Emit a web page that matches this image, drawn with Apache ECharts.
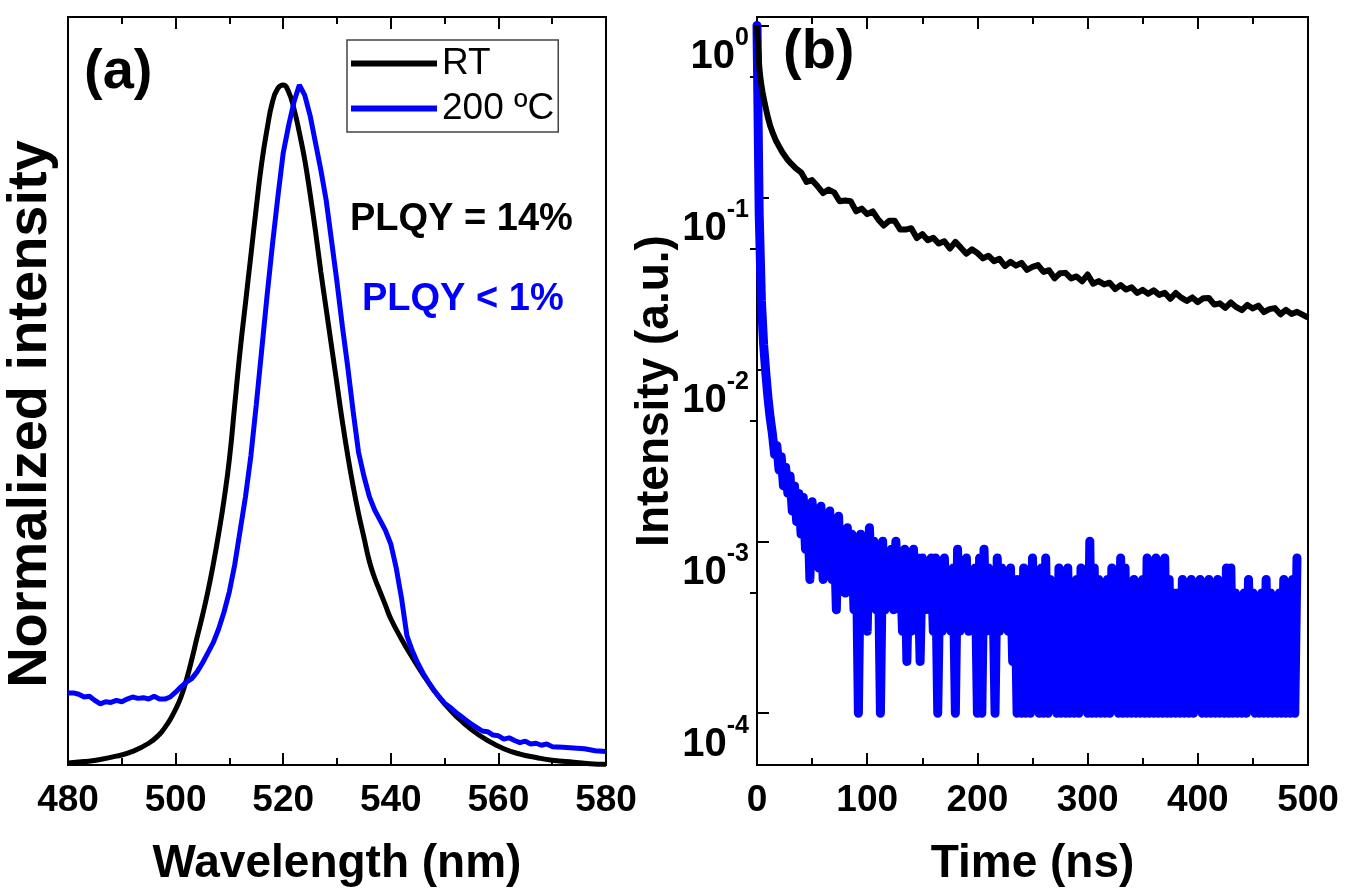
<!DOCTYPE html>
<html lang="en">
<head>
    <meta charset="utf-8"/>
    <title>PL spectra and decay</title>
    <style>
        html, body { margin: 0; padding: 0; background: #fff; }
        #chart { width: 1347px; height: 894px; }
    </style>
</head>
<body>
<div id="chart"></div>
<script src="https://cdn.jsdelivr.net/npm/echarts@6/dist/echarts.min.js"></script>
<script>
    // (a) PL spectra, normalized
    var wlRT = [480,483,486,489,492,495,497,498,499,500,501,502,503,504,505,506,507,508,509,510,
        511,512,513,514,515,516,517,518,519,520,521,522,523,524,525,526,527,528,529,530,
        531,532,533,534,535,536,537,538,539,540,542,544,546,548,550,552,555,558,561,564,567,570,574,577,580];
    var specRT = [0.003,0.005,0.008,0.013,0.02,0.032,0.045,0.055,0.067,0.082,0.1,0.125,0.155,0.188,0.22,0.255,0.295,0.34,0.39,0.45,
        0.53,0.61,0.68,0.75,0.82,0.885,0.935,0.975,0.995,1.0,0.99,0.965,0.93,0.89,0.84,0.785,0.725,0.67,0.615,0.56,
        0.505,0.455,0.41,0.37,0.335,0.3,0.275,0.255,0.235,0.215,0.185,0.158,0.133,0.11,0.09,0.073,0.052,0.036,0.024,0.016,0.011,0.007,0.004,0.002,0.001];

    var wl200 = [480,481,482,483,484,485,486,487,488,489,490,491,492,493,494,495,496,497,498,499,
        500,501,502,503,504,505,506,507,508,509,510,511,512,513,514,515,516,517,518,519,
        520,521,522,523,524,525,526,527,528,529,530,531,532,533,534,535,536,537,538,539,
        540,541,542,543,544,545,546,547,548,549,550,551,552,553,554,555,556,557,558,559,
        560,561,562,563,564,565,566,567,568,569,570,572,574,576,578,580];
    var spec200 = [0.106,0.106,0.104,0.1,0.101,0.095,0.09,0.093,0.092,0.095,0.093,0.097,0.1,0.098,0.099,0.097,0.101,0.097,0.097,0.1,
        0.107,0.115,0.122,0.127,0.137,0.15,0.165,0.18,0.2,0.225,0.255,0.295,0.345,0.395,0.455,0.53,0.61,0.69,0.765,0.835,
        0.9,0.94,0.975,1.0,0.985,0.955,0.915,0.875,0.83,0.77,0.71,0.645,0.585,0.52,0.46,0.425,0.395,0.375,0.36,0.345,
        0.325,0.29,0.245,0.19,0.168,0.15,0.135,0.122,0.11,0.1,0.091,0.085,0.078,0.072,0.066,0.06,0.055,0.05,0.049,0.044,
        0.043,0.038,0.04,0.036,0.033,0.035,0.031,0.032,0.029,0.031,0.027,0.026,0.025,0.024,0.021,0.02];

    // (b) TRPL decay, log scale
    var tRT = [0,1,2,3,4,5,6,8,10,12,14,17,20,23,27,31,35,
        40,45,50,55,60,65,70,75,80,85,90,95,100,105,110,115,120,125,130,135,140,145,150,155,160,165,170,175,180,185,190,195,
        200,205,210,215,220,225,230,235,240,245,250,255,260,265,270,275,280,285,290,295,300,305,310,315,320,325,330,335,340,345,
        350,355,360,365,370,375,380,385,390,395,400,405,410,415,420,425,430,435,440,445,450,455,460,465,470,475,480,485,490,495,500];
    var decayRT = [1.0,0.75,0.58,0.5,0.45,0.41,0.38,0.33,0.29,0.26,0.24,0.215,0.198,0.183,0.168,0.157,0.148,
        0.140,0.123,0.126,0.116,0.106,0.111,0.107,0.095,0.096,0.095,0.083,0.086,0.080,0.083,0.0745,0.0686,0.0731,0.0731,0.065,0.065,
        0.0662,0.058,0.0612,0.0563,0.0582,0.0539,0.0556,0.0504,0.0551,0.051,0.047,0.0499,
        0.0475,0.0442,0.0458,0.0426,0.0439,0.0399,0.0422,0.0401,0.0416,0.0379,0.0394,0.0404,0.0369,0.0377,0.0338,0.0362,0.0364,0.0338,0.0347,0.0325,
        0.0356,0.0315,0.0326,0.0312,0.0319,0.0293,0.0309,0.0291,0.030,0.0278,
        0.029,0.0275,0.0288,0.0271,0.0279,0.0257,0.0278,0.0261,0.025,0.0262,0.0246,0.0259,0.026,0.0238,0.0242,0.0228,0.0245,0.023,
        0.0221,0.0237,0.0226,0.0235,0.0215,0.0224,0.0227,0.0209,0.0222,0.021,0.0216,0.0208,0.020];

    var step200 = 2; // ns between samples of the 200 C decay
    var decay200 = [
        1,0.08,0.025,0.014,0.0095,0.0068,0.0052,0.0042,0.0032,0.0036,
        0.0026,0.0031,0.0021,0.0027,0.0019,0.0024,0.0015,0.0021,0.0013,0.0019,
        0.0011,0.0018,9e-4,0.0016,6e-4,0.0017,8e-4,0.0014,7e-4,0.0016,
        6e-4,0.0013,8e-4,0.0015,6e-4,0.0012,4e-4,0.0014,7e-4,0.0011,
        5e-4,0.0012,6e-4,0.0011,4e-4,0.0010,1e-4,0.0011,5e-4,9e-4,
        3e-4,0.0012,6e-4,0.0010,4e-4,9e-4,1e-4,0.0010,4e-4,8e-4,
        5e-4,9e-4,4e-4,0.0010,5e-4,8e-4,3e-4,9e-4,2e-4,8e-4,
        3e-4,9e-4,4e-4,8e-4,2e-4,8e-4,4e-4,7e-4,4e-4,8e-4,
        3e-4,8e-4,1e-4,7e-4,3e-4,8e-4,4e-4,6e-4,3e-4,7e-4,
        1e-4,9e-4,3e-4,7e-4,4e-4,8e-4,3e-4,6e-4,4e-4,7e-4,
        1e-4,8e-4,1e-4,9e-4,3e-4,7e-4,4e-4,6e-4,1e-4,8e-4,
        3e-4,7e-4,4e-4,6e-4,3e-4,7e-4,2e-4,6e-4,1e-4,6e-4,
        1e-4,7e-4,1e-4,6e-4,1e-4,8e-4,2e-4,6e-4,1e-4,7e-4,
        1e-4,8e-4,1e-4,6e-4,2e-4,5e-4,1e-4,7e-4,1e-4,6e-4,
        1e-4,7e-4,1e-4,5e-4,1e-4,6e-4,1e-4,7e-4,2e-4,5e-4,
        1e-4,0.0010,1e-4,7e-4,1e-4,6e-4,1e-4,5e-4,1e-4,6e-4,
        1e-4,7e-4,2e-4,6e-4,1e-4,8e-4,1e-4,7e-4,1e-4,5e-4,
        1e-4,6e-4,1e-4,5e-4,1e-4,6e-4,1e-4,8e-4,1e-4,7e-4,
        1e-4,8e-4,1e-4,7e-4,1e-4,8e-4,1e-4,6e-4,1e-4,5e-4,
        1e-4,5e-4,1e-4,6e-4,1e-4,5e-4,1e-4,6e-4,1e-4,5e-4,
        2e-4,6e-4,1e-4,5e-4,1e-4,6e-4,1e-4,5e-4,1e-4,6e-4,
        1e-4,5e-4,1e-4,7e-4,1e-4,7e-4,1e-4,5e-4,1e-4,4e-4,
        1e-4,5e-4,1e-4,6e-4,2e-4,5e-4,1e-4,4e-4,1e-4,5e-4,
        1e-4,6e-4,1e-4,5e-4,1e-4,4e-4,1e-4,5e-4,1e-4,6e-4,
        1e-4,5e-4,1e-4,6e-4,1e-4,8e-4];

    var logMajor = [1e-4, 1e-3, 1e-2, 1e-1, 1];
    var logMinor = [5e-4, 5e-3, 5e-2, 5e-1];

    var BLUE = '#0000ff';
    var FONT = '"Liberation Sans", Arial, sans-serif';

    function pairs(xs, ys) {
        var out = [];
        for (var i = 0; i < ys.length; i++) out.push([xs[i], ys[i]]);
        return out;
    }
    var d200 = [];
    for (var i = 0; i < decay200.length; i++) d200.push([i * step200, decay200[i]]);

    var tickLine = {color: '#000', width: 2};
    function xAxisOf(grid, min, max, interval, top, name) {
        return {
            gridIndex: grid, type: 'value', min: min, max: max, interval: interval,
            position: top ? 'top' : 'bottom',
            axisLine: {show: true, onZero: false, lineStyle: {color: '#000', width: 2}},
            axisTick: {show: true, inside: true, length: 12, lineStyle: tickLine},
            minorTick: {show: true, splitNumber: 2, length: 7, lineStyle: tickLine},
            axisLabel: {show: !top, color: '#000', fontSize: 37, fontWeight: 'bold', fontFamily: FONT, margin: 17},
            splitLine: {show: false},
            name: top ? '' : name, nameLocation: 'middle', nameGap: 76,
            nameTextStyle: {color: '#000', fontSize: 46, fontWeight: 'bold', fontFamily: FONT}
        };
    }

    var option = {
        animation: false,
        backgroundColor: '#fff',
        grid: [
            {left: 68, top: 17, width: 538, height: 748, show: true, borderColor: '#000', borderWidth: 2},
            {left: 757, top: 17, width: 551, height: 748, show: true, borderColor: '#000', borderWidth: 2}
        ],
        legend: {
            data: ['RT', '200 ºC'],
            orient: 'vertical', left: 347, top: 40,
            icon: 'rect', itemWidth: 86, itemHeight: 6, itemGap: 8,
            padding: [5, 4, 5, 4],
            borderColor: '#444', borderWidth: 1.5,
            textStyle: {color: '#000', fontSize: 37, fontFamily: FONT}
        },
        xAxis: [
            xAxisOf(0, 480, 580, 20, false, 'Wavelength (nm)'),
            xAxisOf(0, 480, 580, 20, true),
            xAxisOf(1, 0, 500, 100, false, 'Time (ns)'),
            xAxisOf(1, 0, 500, 100, true)
        ],
        yAxis: [
            {
                gridIndex: 0, type: 'value', min: 0, max: 1.1,
                axisLine: {show: true, lineStyle: {color: '#000', width: 2}},
                axisTick: {show: false}, axisLabel: {show: false}, splitLine: {show: false}
            },
            {
                gridIndex: 1, type: 'log', logBase: 10, min: 5e-5, max: 1.12,
                axisLine: {show: true, onZero: false, lineStyle: {color: '#000', width: 2}},
                axisTick: {show: true, inside: true, length: 12, lineStyle: tickLine, customValues: logMajor},
                axisLabel: {
                    customValues: logMajor, margin: 8, verticalAlign: 'top',
                    formatter: function (v) {
                        return '{b|10}{s|' + Math.round(Math.log10(v)) + '}';
                    },
                    rich: {
                        b: {color: '#000', fontSize: 40, fontWeight: 'bold', fontFamily: FONT, lineHeight: 52, verticalAlign: 'bottom'},
                        s: {color: '#000', fontSize: 25, fontWeight: 'bold', fontFamily: FONT, lineHeight: 52, verticalAlign: 'top'}
                    }
                },
                splitLine: {show: false},
                name: 'Intensity (a.u.)', nameLocation: 'middle', nameGap: 60,
                nameTextStyle: {color: '#000', fontSize: 46, fontWeight: 'bold', fontFamily: FONT}
            },
            {
                gridIndex: 1, type: 'log', logBase: 10, min: 5e-5, max: 1.12,
                axisLine: {show: false},
                axisTick: {show: true, inside: true, length: 7, lineStyle: tickLine, customValues: logMinor},
                axisLabel: {show: false}, splitLine: {show: false}
            }
        ],
        graphic: [
            {type: 'text', x: 31, y: 414, rotation: Math.PI / 2,
                style: {text: 'Normalized intensity', fill: '#000', font: 'bold 56px ' + FONT, align: 'center', verticalAlign: 'middle'}},
            {type: 'text', left: 84, top: 45, style: {text: '(a)', fill: '#000', font: 'bold 56px ' + FONT}},
            {type: 'text', left: 783, top: 25, style: {text: '(b)', fill: '#000', font: 'bold 56px ' + FONT}},
            {type: 'text', left: 350, top: 201, style: {text: 'PLQY = 14%', fill: '#000', font: 'bold 38px ' + FONT}},
            {type: 'text', left: 362, top: 281, style: {text: 'PLQY < 1%', fill: BLUE, font: 'bold 38px ' + FONT}}
        ],
        series: [
            {
                name: 'RT', type: 'line', xAxisIndex: 0, yAxisIndex: 0, showSymbol: false, smooth: true,
                data: pairs(wlRT, specRT), lineStyle: {color: '#000', width: 5}, itemStyle: {color: '#000'}
            },
            {
                name: '200 ºC', type: 'line', xAxisIndex: 0, yAxisIndex: 0, showSymbol: false,
                data: pairs(wl200, spec200), lineStyle: {color: BLUE, width: 5}, itemStyle: {color: BLUE}
            },
            {
                name: 'RT', type: 'line', xAxisIndex: 2, yAxisIndex: 1, showSymbol: false, z: 3,
                data: pairs(tRT, decayRT), lineStyle: {color: '#000', width: 6, join: 'round'}, itemStyle: {color: '#000'}
            },
            {
                name: '200 ºC', type: 'line', xAxisIndex: 2, yAxisIndex: 1, showSymbol: false, z: 2,
                data: d200, lineStyle: {color: BLUE, width: 9, cap: 'round', join: 'round'}, itemStyle: {color: BLUE}
            }
        ]
    };

    var chart = echarts.init(document.getElementById('chart'));
    chart.setOption(option);
</script>
</body>
</html>
